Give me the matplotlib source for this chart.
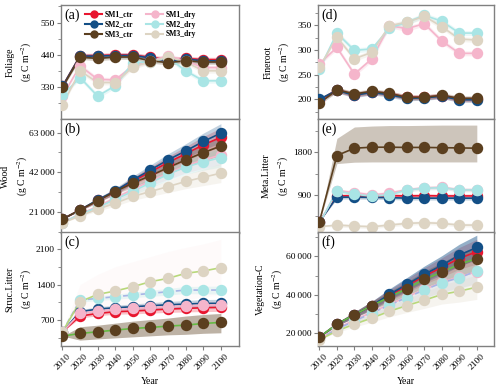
import numpy as np
import matplotlib
matplotlib.use("Agg")
import matplotlib.pyplot as plt
from matplotlib.ticker import MultipleLocator, FuncFormatter

plt.rcParams['font.family'] = ['Liberation Serif', 'DejaVu Serif']
plt.rcParams['mathtext.fontset'] = 'stix'

years = [2010, 2020, 2030, 2040, 2050, 2060, 2070, 2080, 2090, 2100]
series = ["SM1_ctr", "SM2_ctr", "SM1_dry", "SM2_dry", "SM3_dry", "SM3_ctr"]
colors = {"SM1_ctr": "#e8162f", "SM2_ctr": "#134f86", "SM3_ctr": "#5b3f1f",
          "SM1_dry": "#f5b5cb", "SM2_dry": "#a9e5e5", "SM3_dry": "#ddd4c3"}

# Foliage (g C m-2)
foliage = {
    "SM1_ctr": [333, 437, 438, 440, 440, 432, 424, 428, 424, 424],
    "SM2_ctr": [333, 436, 436, 438, 438, 430, 420, 426, 420, 420],
    "SM3_ctr": [330, 433, 428, 433, 433, 420, 414, 420, 416, 416],
    "SM1_dry": [300, 403, 357, 355, 403, 420, 437, 420, 397, 397],
    "SM2_dry": [303, 363, 300, 335, 414, 416, 431, 386, 352, 352],
    "SM3_dry": [270, 386, 346, 346, 399, 417, 433, 416, 386, 386],
}
# Wood
wood = {
    "SM1_ctr": [17300, 22200, 27200, 31900, 37300, 42300, 47200, 51800, 56500, 60500],
    "SM2_ctr": [17300, 22200, 27500, 32200, 38000, 43300, 48600, 53300, 58300, 62700],
    "SM3_ctr": [17300, 22200, 27000, 31900, 36300, 40200, 44500, 48600, 52400, 55900],
    "SM1_dry": [15500, 20000, 24000, 28500, 33000, 37500, 41500, 45500, 48500, 51200],
    "SM2_dry": [15500, 19800, 23500, 27800, 32000, 36500, 41000, 44800, 47500, 49800],
    "SM3_dry": [15200, 19100, 22600, 25700, 29300, 31900, 34500, 37200, 39400, 41600],
}
# Struc.Litter
struc = {
    "SM1_ctr": [470, 780, 830, 865, 877, 897, 917, 930, 943, 950],
    "SM2_ctr": [470, 865, 917, 943, 963, 983, 1002, 1015, 1029, 1029],
    "SM3_ctr": [385, 437, 470, 503, 536, 555, 582, 601, 634, 654],
    "SM1_dry": [470, 830, 880, 910, 930, 950, 965, 980, 995, 1000],
    "SM2_dry": [470, 1094, 1127, 1160, 1193, 1226, 1258, 1291, 1291, 1291],
    "SM3_dry": [470, 1061, 1206, 1272, 1357, 1456, 1521, 1620, 1666, 1731],
}
# Fineroot
fineroot = {
    "SM1_ctr": [198, 219, 209, 215, 211, 204, 204, 207, 200, 200],
    "SM2_ctr": [200, 218, 208, 214, 209, 202, 203, 206, 199, 199],
    "SM3_ctr": [192, 219, 211, 216, 212, 204, 204, 208, 202, 202],
    "SM1_dry": [272, 305, 251, 282, 349, 343, 353, 318, 293, 293],
    "SM2_dry": [261, 334, 299, 302, 344, 356, 370, 358, 334, 334],
    "SM3_dry": [265, 326, 282, 295, 349, 356, 368, 347, 322, 320],
}
# Meta.Litter
meta = {
    "SM1_ctr": [338, 880, 885, 880, 885, 880, 885, 880, 880, 880],
    "SM2_ctr": [338, 854, 854, 850, 845, 833, 833, 833, 833, 833],
    "SM3_ctr": [338, 1730, 1884, 1905, 1905, 1900, 1900, 1895, 1890, 1884],
    "SM1_dry": [300, 990, 950, 900, 940, 1010, 1050, 1060, 1010, 1010],
    "SM2_dry": [300, 984, 914, 877, 900, 1005, 1040, 1054, 1005, 1005],
    "SM3_dry": [232, 267, 246, 232, 267, 303, 317, 303, 267, 267],
}
# Vegetation-C
veg = {
    "SM1_ctr": [17900, 24700, 29600, 34400, 39700, 44700, 49800, 54300, 59000, 62500],
    "SM2_ctr": [17900, 24700, 29600, 34400, 40200, 45400, 50700, 55400, 60700, 64700],
    "SM3_ctr": [17900, 24700, 29600, 34400, 38800, 43200, 48100, 51900, 55900, 58900],
    "SM1_dry": [16800, 22500, 26800, 31000, 35000, 39000, 42800, 46500, 49500, 52000],
    "SM2_dry": [16800, 22200, 26300, 30500, 34600, 38600, 42500, 46300, 48900, 52500],
    "SM3_dry": [16500, 21200, 24700, 27900, 31400, 34400, 37200, 40200, 41900, 44000],
}

# band half widths (uncertainty spread)
foliage_spread = [4, 8, 8, 8, 8, 8, 8, 8, 8, 8]
wood_spread = [0, 500, 1000, 1500, 2000, 2600, 3200, 3800, 4400, 5000]
struc_spread = [0, 40, 45, 50, 55, 60, 65, 70, 75, 80]
struc_ctr3_low = [385, 306, 330, 350, 370, 390, 410, 420, 440, 450]
struc_ctr3_high = [385, 569, 600, 640, 680, 710, 740, 780, 810, 831]
struc_dry3_low = [470, 800, 850, 900, 950, 1000, 1050, 1100, 1150, 1200]
struc_dry3_high = [470, 1400, 1600, 1750, 1850, 1950, 2050, 2130, 2200, 2290]
fineroot_spread = [3, 5, 5, 5, 5, 5, 5, 5, 5, 5]
meta_spread = [0, 40, 40, 40, 40, 40, 40, 40, 40, 40]
meta_ctr3_low = [338, 1560, 1590, 1595, 1595, 1595, 1595, 1595, 1595, 1595]
meta_ctr3_high = [338, 2090, 2330, 2350, 2360, 2360, 2365, 2370, 2370, 2370]
veg_spread = [0, 800, 1500, 2200, 2900, 3600, 4300, 5000, 5700, 6400]

# line colours differ from markers in (c) and (f)
alt_lines = {"SM3_ctr": ("#66bb44", "-"), "SM2_dry": ("#a7b5e6", "--"), "SM3_dry": ("#b8d87a", "-")}

fig = plt.figure(figsize=(5.0, 3.89), dpi=100)

lefts = [0.122, 0.636]
widths = [0.355, 0.3526]
bottoms = [0.694, 0.401, 0.1105]
h = 0.2933

# tag, data, label, ylim, major, minor, spread, column, row, label x (axes coords)
panels = [
    ("(a)", foliage, "Foliage", (222, 610), 110, 55, foliage_spread, 0, 0, -0.23),
    ("(b)", wood, "Wood", (10000, 70200), 21000, 10500, wood_spread, 0, 1, -0.256),
    ("(c)", struc, "Struc.Litter", (190, 2435), 700, 350, struc_spread, 0, 2, -0.234),
    ("(d)", fineroot, "Fineroot", (160, 391), 50, 25, fineroot_spread, 1, 0, -0.227),
    ("(e)", meta, "Meta.Litter", (100, 2500), 900, 450, meta_spread, 1, 1, -0.236),
    ("(f)", veg, "Vegetation-C", (13300, 72800), 20000, 10000, veg_spread, 1, 2, -0.27),
]

def thousands(v, pos):
    if v >= 10000:
        return f"{int(v):,}".replace(",", "\u2009")
    return f"{int(v)}"

spine_c = "#808080"
for tag, data, name, ylim, major, minor, spread, col, row, lx in panels:
    ax = fig.add_axes([lefts[col], bottoms[row], widths[col], h])
    yrs = np.array(years)
    for s in series:
        v = np.array(data[s], dtype=float)
        sp = np.array(spread, dtype=float)
        lo, hi = v - sp, v + sp
        if tag == "(c)" and s == "SM3_ctr":
            lo, hi = struc_ctr3_low, struc_ctr3_high
        if tag == "(c)" and s == "SM3_dry":
            lo, hi = struc_dry3_low, struc_dry3_high
        if tag == "(e)" and s == "SM3_ctr":
            lo, hi = meta_ctr3_low, meta_ctr3_high
        alpha = 0.25
        if tag == "(c)" and s == "SM3_dry":
            ax.fill_between(yrs, lo, hi, color="#f3c9c9", alpha=0.08, lw=0, zorder=1)
        else:
            if tag == "(e)" and s == "SM3_ctr":
                alpha = 0.3
            if tag == "(c)" and s == "SM3_ctr":
                alpha = 0.4
            if tag == "(f)" and s == "SM2_ctr":
                alpha = 0.45
            ax.fill_between(yrs, lo, hi, color=colors[s], alpha=alpha, lw=0, zorder=1)
        lc, ls = colors[s], "-"
        if tag in ("(c)", "(f)") and s in alt_lines:
            lc, ls = alt_lines[s]
        ax.plot(yrs, v, color=lc, ls=ls, lw=1.2, zorder=2)
        ax.plot(yrs, v, ls="none", marker="o", ms=7.2, mfc=colors[s], mec=colors[s], zorder=3)
    ax.set_xlim(2009.2, 2110)
    ax.set_ylim(*ylim)
    ax.yaxis.set_major_locator(MultipleLocator(major))
    ax.yaxis.set_minor_locator(MultipleLocator(minor))
    ax.yaxis.set_major_formatter(FuncFormatter(thousands))
    ax.set_xticks(years)
    for sp_ in ax.spines.values():
        sp_.set_color(spine_c)
        sp_.set_linewidth(1.0)
    ax.tick_params(axis="both", which="both", direction="out", color=spine_c, labelsize=6.8, pad=1.5)
    ax.tick_params(axis="both", which="major", length=3)
    ax.tick_params(axis="both", which="minor", length=2)
    if row == 2:
        ax.set_xticklabels([str(y) for y in years], rotation=45, ha="center")
        ax.set_xlabel("Year", fontsize=7, labelpad=4)
    else:
        ax.set_xticklabels([])
        ax.tick_params(axis="x", length=0)
    ax.set_ylabel(name + "\n(g C m$^{-2}$)", fontsize=7, linespacing=1.5)
    ax.yaxis.set_label_coords(lx, 0.5)
    ax.yaxis.label.set_va("center")
    ax.text(0.02, 0.97, tag, transform=ax.transAxes, fontsize=10, va="top", ha="left")
    if tag == "(a)":
        handles = []
        for s in ["SM1_ctr", "SM2_ctr", "SM3_ctr", "SM1_dry", "SM2_dry", "SM3_dry"]:
            hnd, = ax.plot([], [], color=colors[s], lw=1.5, marker="o", ms=5)
            handles.append(hnd)
        ax.legend(handles=handles, labels=["SM1_ctr", "SM2_ctr", "SM3_ctr", "SM1_dry", "SM2_dry", "SM3_dry"],
                  ncol=2, loc="upper left", bbox_to_anchor=(0.11, 0.99), frameon=False,
                  prop={"size": 5.5, "weight": "bold"}, handlelength=2.2, handletextpad=0.3,
                  columnspacing=1.8, labelspacing=0.25, borderaxespad=0.2)

fig.savefig("out.png", dpi=100)
